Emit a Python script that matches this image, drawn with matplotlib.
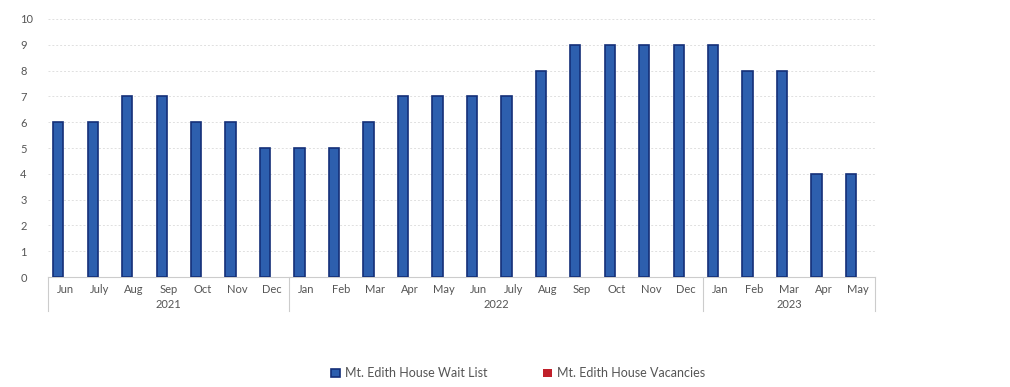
import numpy as np
import matplotlib
matplotlib.use("Agg")
from matplotlib import pyplot as plt
from matplotlib.lines import Line2D

# data
months = ["Jun", "July", "Aug", "Sep", "Oct", "Nov", "Dec",
          "Jan", "Feb", "Mar", "Apr", "May", "Jun", "July", "Aug", "Sep", "Oct", "Nov", "Dec",
          "Jan", "Feb", "Mar", "Apr", "May"]
years = ["2021", "2022", "2023"]
year_counts = [7, 12, 5]
wait_list = [6, 6, 7, 7, 6, 6, 5,
             5, 5, 6, 7, 7, 7, 7, 8, 9, 9, 9, 9,
             9, 8, 8, 4, 4]
vacancies = [0] * 24

plt.rcParams['font.family'] = ['Lato', 'DejaVu Sans']
txt = "#555555"

fig = plt.figure(figsize=(10.1, 3.87), dpi=100)
ax = fig.add_axes([0.0475, 0.284, 0.819, 0.667])

x = np.arange(len(months))
w = 0.3
ax.bar(x - 0.2, wait_list, width=w, color="#2d5fae", edgecolor="#142f78", linewidth=1.2,
       label="Mt. Edith House Wait List", zorder=3)
ax.bar(x + 0.2, vacancies, width=w, color="#c0202a", linewidth=0,
       label="Mt. Edith House Vacancies", zorder=3)

ax.set_xlim(-0.5, len(months) - 0.5)
ax.set_ylim(0, 10)
ax.set_yticks(range(0, 11))
ax.set_xticks(x)
ax.set_xticklabels(months)
ax.tick_params(axis="both", length=0, labelsize=8, colors=txt)
ax.tick_params(axis="y", pad=20)
ax.tick_params(axis="x", pad=5)
for lbl in ax.get_yticklabels():
    lbl.set_horizontalalignment("left")
ax.grid(axis="y", color="#e0e0e0", linestyle=(0, (2, 2)), linewidth=0.7, zorder=0)
for s in ["top", "right", "left"]:
    ax.spines[s].set_visible(False)
ax.spines["bottom"].set_color("#cccccc")

# year groups under the month labels
trans = ax.get_xaxis_transform()
edges = np.concatenate([[0], np.cumsum(year_counts)]) - 0.5
for e in edges:
    ax.add_line(Line2D([e, e], [0, -0.13], transform=trans, color="#cccccc",
                       linewidth=0.8, clip_on=False))
for i, yr in enumerate(years):
    mid = (edges[i] + edges[i + 1]) / 2
    ax.text(mid, -0.105, yr, transform=trans, ha="center", va="center",
            fontsize=8, color=txt)

handles, labels = ax.get_legend_handles_labels()
fig.legend(handles, labels, loc="center", bbox_to_anchor=(0.513, 0.035), ncol=2,
           frameon=False, fontsize=9, labelcolor=txt, handlelength=0.7,
           handleheight=0.7, columnspacing=4.5, handletextpad=0.4)

fig.savefig("out.png", dpi=100)
